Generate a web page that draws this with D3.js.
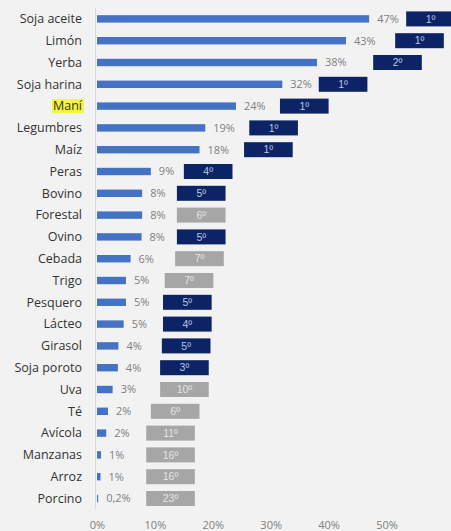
<!DOCTYPE html>
<html>
<head>
<meta charset="utf-8">
<script src="https://cdn.jsdelivr.net/npm/d3@7"></script>
<style>
  html, body { margin: 0; padding: 0; background: #f2f2f2; }
  svg { display: block; font-family: "Open Sans", "Liberation Sans", sans-serif; }
</style>
</head>
<body>
<svg id="chart" width="451" height="531"></svg>
<script>
// sectors, share (%) and national rank
const categories = ['Soja aceite', 'Limón', 'Yerba', 'Soja harina', 'Maní', 'Legumbres', 'Maíz', 'Peras',
  'Bovino', 'Forestal', 'Ovino', 'Cebada', 'Trigo', 'Pesquero', 'Lácteo', 'Girasol', 'Soja poroto',
  'Uva', 'Té', 'Avícola', 'Manzanas', 'Arroz', 'Porcino'];
const shares = [47, 43, 38, 32, 24, 18.7, 17.7, 9.3, 7.8, 7.8, 7.7, 5.8, 5.0, 5.0, 4.6, 3.7, 3.6,
  2.7, 1.9, 1.6, 0.7, 0.6, 0.2];
const ranks = [1, 1, 2, 1, 1, 1, 1, 4, 5, 6, 5, 7, 7, 5, 4, 5, 3, 10, 6, 11, 16, 16, 23];
// start of the rank box, in % of the same axis (offset series)
const rankOffset = [53.4, 51.5, 47.7, 38.3, 31.6, 26.3, 25.4, 15.0, 13.8, 13.8, 13.8, 13.5, 11.7,
  11.4, 11.4, 11.2, 10.9, 10.9, 9.3, 8.5, 8.5, 8.5, 8.5];
const xTicks = [0, 10, 20, 30, 40, 50];
const highlighted = 'Maní';

const data = categories.map((c, i) => ({
  name: c, value: shares[i], rank: ranks[i], offset: rankOffset[i]
}));

const svg = d3.select('#chart');
const rankWidth = 8.4;

const xScale = d3.scaleLinear()
  .domain([0, 60])
  .range([97, 444.4]);

const yScale = d3.scaleBand()
  .domain(categories)
  .range([8, 509.4]);

const yMid = d => yScale(d.name) + yScale.bandwidth() / 2;

const fmt = v => v < 0.5 ? String(v).replace('.', ',') + '%' : Math.round(v) + '%';

// axis line
svg.append('line')
  .attr('x1', xScale(0) - 1.5).attr('x2', xScale(0) - 1.5)
  .attr('y1', 8).attr('y2', 509)
  .attr('stroke', '#d9d9d9')
  .attr('stroke-width', 1);

// bars
svg.selectAll('.bar').data(data).enter().append('rect')
  .attr('class', 'bar')
  .attr('x', xScale(0))
  .attr('y', d => yMid(d) - 3.7)
  .attr('width', d => xScale(d.value) - xScale(0))
  .attr('height', 7.4)
  .attr('fill', '#4472c4');

// value labels
svg.selectAll('.val').data(data).enter().append('text')
  .attr('class', 'val')
  .attr('x', d => xScale(d.value) + 8)
  .attr('y', d => yMid(d))
  .attr('dy', '0.35em')
  .attr('font-size', 11)
  .attr('fill', '#7f7f7f')
  .text(d => fmt(d.value));

// rank boxes
const rankG = svg.selectAll('.rank').data(data).enter().append('g')
  .attr('class', 'rank');

rankG.append('rect')
  .attr('x', d => xScale(d.offset))
  .attr('y', d => yMid(d) - 7.5)
  .attr('width', xScale(rankWidth) - xScale(0))
  .attr('height', 15)
  .attr('fill', d => d.rank <= 5 ? '#0c2366' : '#a6a6a6');

rankG.append('text')
  .attr('x', d => xScale(d.offset + rankWidth / 2))
  .attr('y', d => yMid(d))
  .attr('dy', '0.35em')
  .attr('text-anchor', 'middle')
  .attr('font-family', '"Liberation Sans", sans-serif')
  .attr('font-size', 10.5)
  .attr('fill', d => d.rank <= 5 ? '#b4c7e7' : '#e4e4e4')
  .text(d => d.rank + 'º');

// category labels
const catX = 82;
const hl = data.find(d => d.name === highlighted);
const catLabels = svg.selectAll('.cat').data(data).enter().append('text')
  .attr('class', 'cat')
  .attr('x', catX)
  .attr('y', d => yMid(d))
  .attr('dy', '0.35em')
  .attr('text-anchor', 'end')
  .attr('font-size', 12.5)
  .attr('fill', '#333333')
  .text(d => d.name);

// yellow highlight behind the peanut label
catLabels.filter(d => d.name === highlighted).each(function() {
  const b = this.getBBox();
  svg.insert('rect', '.cat')
    .attr('x', b.x - 1)
    .attr('y', yMid(hl) - 7)
    .attr('width', b.width + 2)
    .attr('height', 14)
    .attr('fill', '#f5f53c');
});

// x axis ticks
const xAxis = d3.axisBottom(xScale)
  .tickValues(xTicks)
  .tickSize(0)
  .tickPadding(0)
  .tickFormat(d => d + '%');

svg.append('g')
  .attr('transform', 'translate(0,521)')
  .call(xAxis)
  .call(g => g.select('.domain').remove())
  .selectAll('text')
  .attr('font-family', '"Open Sans", "Liberation Sans", sans-serif')
  .attr('font-size', 11)
  .attr('fill', '#7f7f7f');
</script>
</body>
</html>
